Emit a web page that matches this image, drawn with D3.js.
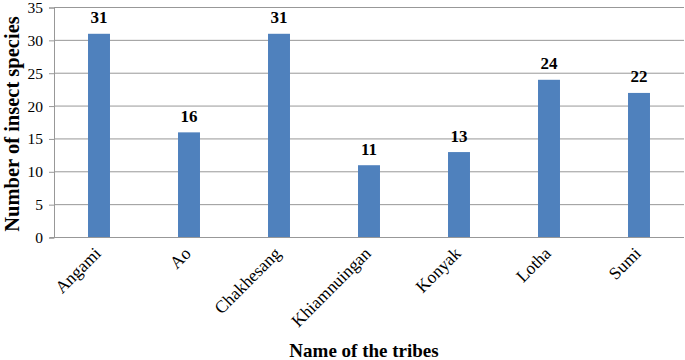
<!DOCTYPE html>
<html><head><meta charset="utf-8">
<script src="https://cdn.jsdelivr.net/npm/d3@7"></script>
<style>body{margin:0;background:#fff}svg{display:block}svg text{font-family:"Liberation Serif","DejaVu Serif",serif}</style>
</head><body><div id="chart"></div>
<script>
const categories = ["Angami","Ao","Chakhesang","Khiamnuingan","Konyak","Lotha","Sumi"];
const values = [31,16,31,11,13,24,22];
const yTicks = [0,5,10,15,20,25,30,35];

const W=685,H=360;
const m={left:54,right:1,top:7.5,bottom:122.5};
const svg=d3.select("#chart").append("svg").attr("width",W).attr("height",H);
const x=d3.scaleBand().domain(categories).range([m.left,W-m.right]).paddingInner(0.756).paddingOuter(0.378);
const y=d3.scaleLinear().domain([0,35]).range([H-m.bottom,m.top]);

svg.append("g").selectAll("line").data(yTicks.filter(d=>d>0)).join("line")
  .attr("x1",m.left).attr("x2",W-m.right).attr("y1",d=>y(d)).attr("y2",d=>y(d))
  .attr("stroke","#989898").attr("stroke-width",1);

const ya=svg.append("g").attr("transform",`translate(${m.left},0)`)
  .call(d3.axisLeft(y).tickValues(yTicks).tickSize(5).tickPadding(6));
ya.attr("font-family",null).attr("font-size",null);
ya.select(".domain").attr("stroke","#989898");
ya.selectAll(".tick line").attr("stroke","#989898");
ya.selectAll("text").style("font-size","15.5px").attr("fill","#000");

svg.append("g").selectAll("rect").data(values).join("rect")
  .attr("x",(d,i)=>x(categories[i])).attr("width",x.bandwidth())
  .attr("y",d=>y(d)).attr("height",d=>y(0)-y(d)).attr("fill","#4F81BD");

svg.append("g").selectAll("text").data(values).join("text")
  .attr("x",(d,i)=>x(categories[i])+x.bandwidth()/2).attr("y",d=>y(d)-10.5)
  .attr("text-anchor","middle").style("font-weight","bold")
  .style("font-size","17px").text(d=>d);

const xa=svg.append("g").attr("transform",`translate(0,${y(0)})`)
  .call(d3.axisBottom(x).tickSize(0).tickPadding(0));
xa.attr("font-family",null).attr("font-size",null);
xa.select(".domain").attr("stroke","#989898").attr("d",`M${m.left-4},0H${W-m.right}`);
xa.selectAll("text").style("font-size","17.5px").attr("fill","#000")
  .attr("text-anchor","end").attr("dy",0)
  .attr("transform","translate(3,17) rotate(-45)");

svg.append("text").attr("x",364).attr("y",357)
  .attr("text-anchor","middle").style("font-weight","bold")
  .style("font-size","19px").text("Name of the tribes");
svg.append("text").attr("transform",`translate(18.5,124) rotate(-90)`)
  .attr("text-anchor","middle").style("font-weight","bold")
  .style("font-size","20.5px").text("Number of insect species");
</script></body></html>
